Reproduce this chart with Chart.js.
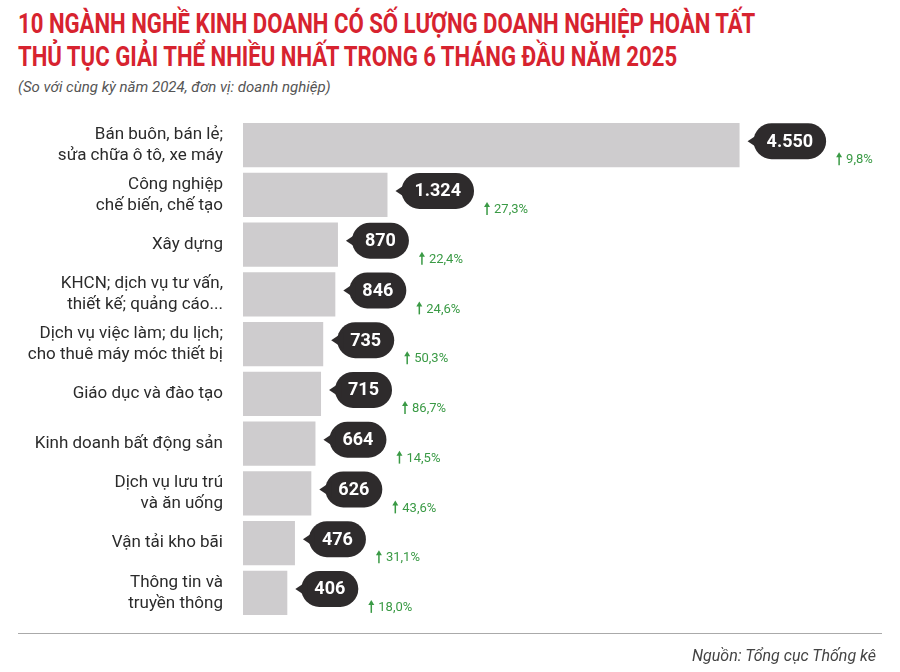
<!DOCTYPE html>
<html>
<head>
<meta charset="utf-8">
<script src="https://cdn.jsdelivr.net/npm/chart.js@4"></script>
<style>
  body { margin: 0; width: 900px; height: 672px; background: #fff; position: relative; font-family: Roboto, sans-serif; overflow: hidden; }
  h1 { position: absolute; left: 18px; top: 8px; margin: 0; color: #d7232f; font-size: 27px; line-height: 33px; font-weight: bold; white-space: nowrap; transform: scaleX(0.82); transform-origin: left top; }
  .sub { position: absolute; left: 18px; top: 78px; color: #555; font-style: italic; font-size: 15px; }
  #wrap { position: absolute; left: 0; top: 87px; width: 900px; height: 564px; }
  .rule { position: absolute; left: 18px; right: 18px; top: 633px; border-top: 1px solid #aaa; }
  .src { position: absolute; right: 24px; top: 646px; color: #444; font-style: italic; font-size: 16px; }
</style>
</head>
<body>
<h1>10 NGÀNH NGHỀ KINH DOANH CÓ SỐ LƯỢNG DOANH NGHIỆP HOÀN TẤT<br>THỦ TỤC GIẢI THỂ NHIỀU NHẤT TRONG 6 THÁNG ĐẦU NĂM 2025</h1>
<div class="sub">(So với cùng kỳ năm 2024, đơn vị: doanh nghiệp)</div>
<div id="wrap"><canvas id="chart"></canvas></div>
<div class="rule"></div>
<div class="src">Nguồn: Tổng cục Thống kê</div>
<script>
// dữ liệu
const categories = [
    ["Bán buôn, bán lẻ;", "sửa chữa ô tô, xe máy"],
    ["Công nghiệp", "chế biến, chế tạo"],
    ["Xây dựng"],
    ["KHCN; dịch vụ tư vấn,", "thiết kế; quảng cáo..."],
    ["Dịch vụ việc làm; du lịch;", "cho thuê máy móc thiết bị"],
    ["Giáo dục và đào tạo"],
    ["Kinh doanh bất động sản"],
    ["Dịch vụ lưu trú", "và ăn uống"],
    ["Vận tải kho bãi"],
    ["Thông tin và", "truyền thông"]
];
const values = [4550, 1324, 870, 846, 735, 715, 664, 626, 476, 406];
const valueLabels = ["4.550", "1.324", "870", "846", "735", "715", "664", "626", "476", "406"];
const growth = ["9,8%", "27,3%", "22,4%", "24,6%", "50,3%", "86,7%", "14,5%", "43,6%", "31,1%", "18,0%"];

// vẽ nhãn dạng bong bóng + tăng trưởng
const bubblePlugin = {
    id: "bubbles",
    afterDatasetsDraw(chart) {
        const ctx = chart.ctx;
        const meta = chart.getDatasetMeta(0);
        meta.data.forEach((bar, i) => {
            const label = valueLabels[i];
            ctx.save();
            ctx.font = "bold 18px Roboto, sans-serif";
            const tw = ctx.measureText(label).width;
            const w = tw + 26, h = 36, r = 18;
            const x = bar.x + 14, cy = bar.y - 4;
            ctx.fillStyle = "#2e2b2c";
            ctx.beginPath();
            ctx.roundRect(x, cy - h / 2, w, h, r);
            ctx.fill();
            ctx.beginPath();
            ctx.moveTo(x - 6, cy);
            ctx.lineTo(x + 6, cy - 8);
            ctx.lineTo(x + 6, cy + 8);
            ctx.closePath();
            ctx.fill();
            ctx.fillStyle = "#fff";
            ctx.textAlign = "center";
            ctx.textBaseline = "middle";
            ctx.fillText(label, x + w / 2, cy + 1);
            // tăng trưởng
            const gx = x + w + 10, gy = bar.y + 14;
            ctx.strokeStyle = "#3a9a45";
            ctx.fillStyle = "#3a9a45";
            ctx.lineWidth = 1.5;
            ctx.beginPath();
            ctx.moveTo(gx + 3, gy + 6);
            ctx.lineTo(gx + 3, gy - 4);
            ctx.stroke();
            ctx.beginPath();
            ctx.moveTo(gx, gy - 2);
            ctx.lineTo(gx + 3, gy - 7);
            ctx.lineTo(gx + 6, gy - 2);
            ctx.closePath();
            ctx.fill();
            ctx.font = "13px Roboto, sans-serif";
            ctx.textAlign = "left";
            ctx.fillText(growth[i], gx + 10, gy + 1);
            ctx.restore();
        });
    }
};

const ctx = document.getElementById("chart").getContext("2d");
new Chart(ctx, {
    type: "bar",
    data: {
        labels: categories,
        datasets: [{
            data: values,
            backgroundColor: "#ceccce",
            barPercentage: 0.89,
            categoryPercentage: 1
        }]
    },
    options: {
        indexAxis: "y",
        responsive: true,
        maintainAspectRatio: false,
        animation: false,
        layout: { padding: { top: 8, bottom: 8, right: 24 } },
        plugins: { legend: { display: false }, tooltip: { enabled: false } },
        scales: {
            x: { display: false, min: 0, max: 5800 },
            y: {
                grid: { display: false },
                border: { display: false },
                afterFit(scale) { scale.width = 243; },
                ticks: {
                    padding: 12,
                    color: "#2b2b2b",
                    font: { size: 17, family: "Roboto, sans-serif", lineHeight: 1.25 }
                }
            }
        }
    },
    plugins: [bubblePlugin]
});
</script>
</body>
</html>
